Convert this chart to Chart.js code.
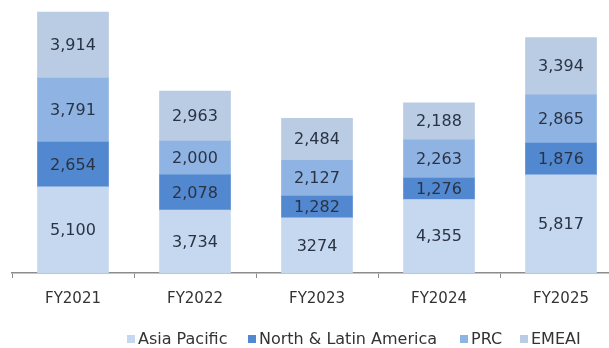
<!DOCTYPE html>
<html>
<head>
<meta charset="utf-8">
<script src="https://cdn.jsdelivr.net/npm/chart.js@4.4.1/dist/chart.umd.min.js"></script>
<style>
  html, body { margin: 0; padding: 0; background: #fff; overflow: hidden; }
  #wrap { position: relative; width: 622px; height: 348px; }
  .legend-item {
    position: absolute; top: 330px;
    display: flex; align-items: center;
    font-family: 'DejaVu Sans', sans-serif; font-size: 16px; color: #333;
    line-height: 18px; white-space: nowrap;
  }
  .legend-item span.box { width: 8px; height: 8px; margin-right: 3px; display: inline-block; }
</style>
</head>
<body>
<div id="wrap">
  <canvas id="chart" width="622" height="348"></canvas>
</div>
<script>
// Datos del gráfico
const years = ['FY2021', 'FY2022', 'FY2023', 'FY2024', 'FY2025'];
const asiaPacific = [5100, 3734, 3274, 4355, 5817];
const northLatinAmerica = [2654, 2078, 1282, 1276, 1876];
const prc = [3791, 2000, 2127, 2263, 2865];
const emeai = [3914, 2963, 2484, 2188, 3394];
const seriesNames = ['Asia Pacific', 'North & Latin America', 'PRC', 'EMEAI'];
const seriesColors = ['#c6d8ef', '#5288cf', '#8fb4e3', '#b9cce4'];
// celdas que aparecen sin separador de miles en el original
const noCommaCells = [[0, 2]];

const seriesData = [asiaPacific, northLatinAmerica, prc, emeai];

// Etiquetas dentro de cada segmento
const segmentLabels = {
    id: 'segmentLabels',
    afterDatasetsDraw(chart) {
        const ctx = chart.ctx;
        ctx.save();
        ctx.font = '16px "DejaVu Sans"';
        ctx.fillStyle = '#2a3344';
        ctx.textAlign = 'center';
        ctx.textBaseline = 'middle';
        chart.data.datasets.forEach((ds, di) => {
            const meta = chart.getDatasetMeta(di);
            meta.data.forEach((bar, i) => {
                const v = ds.data[i];
                const plain = noCommaCells.some(c => c[0] === di && c[1] === i);
                const text = plain ? String(v) : v.toLocaleString('en-US');
                ctx.fillText(text, bar.x, (bar.y + bar.base) / 2 + 1);
            });
        });
        ctx.restore();
    }
};

const chart = new Chart(document.getElementById('chart'), {
    type: 'bar',
    data: {
        labels: years,
        datasets: seriesData.map((d, i) => ({
            label: seriesNames[i],
            data: d,
            backgroundColor: seriesColors[i],
            borderWidth: 0,
            barThickness: 71
        }))
    },
    options: {
        responsive: false,
        animation: false,
        layout: { padding: { top: 3, left: 12, right: 0, bottom: 28 } },
        plugins: {
            legend: { display: false },
            tooltip: { enabled: false }
        },
        scales: {
            x: {
                stacked: true,
                offset: true,
                grid: {
                    display: true,
                    drawOnChartArea: false,
                    drawTicks: true,
                    tickLength: 5,
                    color: '#8c8c8c',
                    offset: true
                },
                border: { display: true, color: '#8c8c8c', width: 1.5 },
                ticks: {
                    color: '#333',
                    padding: 12,
                    font: { family: 'DejaVu Sans', size: 15 }
                }
            },
            y: {
                stacked: true,
                display: false,
                min: 0,
                max: 16000
            }
        }
    },
    plugins: [segmentLabels]
});

// Leyenda en HTML, cada elemento en su posición
const legendLeft = [127, 248, 460, 520];
const wrap = document.getElementById('wrap');
seriesNames.forEach((name, i) => {
    const item = document.createElement('div');
    item.className = 'legend-item';
    item.style.left = legendLeft[i] + 'px';
    const box = document.createElement('span');
    box.className = 'box';
    box.style.background = seriesColors[i];
    item.appendChild(box);
    item.appendChild(document.createTextNode(name));
    wrap.appendChild(item);
});
</script>
</body>
</html>
